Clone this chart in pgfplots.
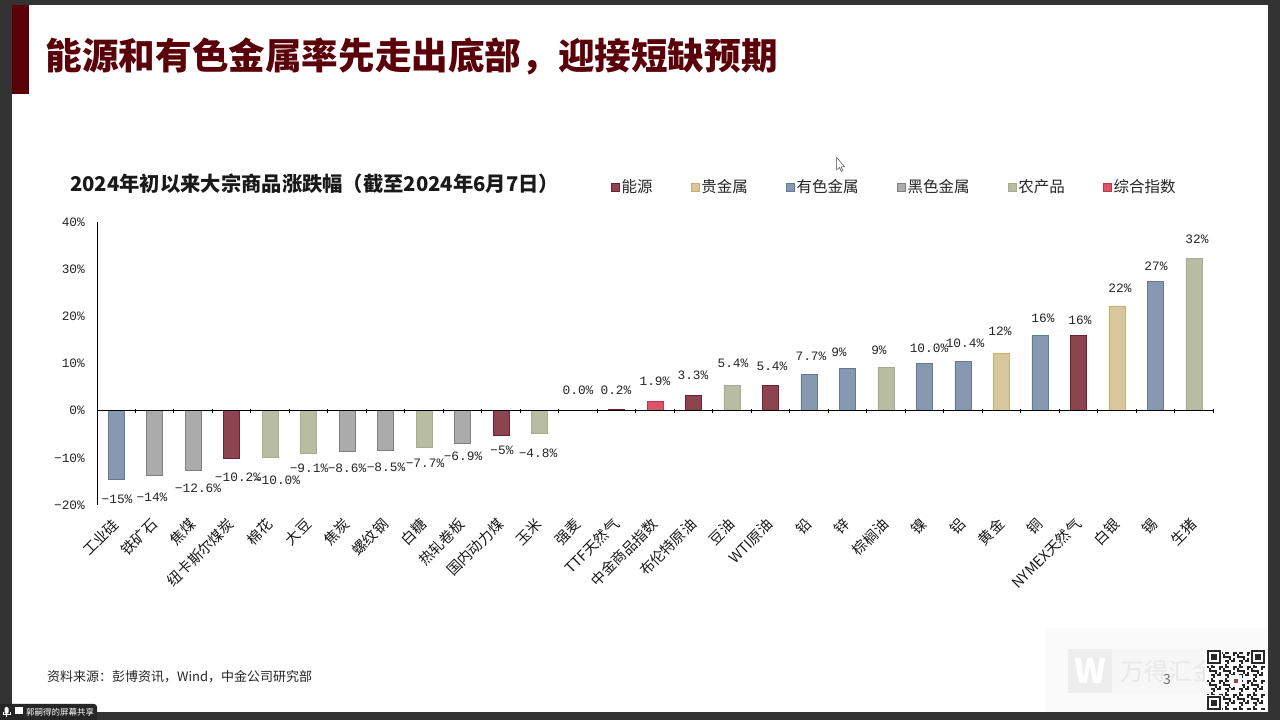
\documentclass[border=0pt]{standalone}
\usepackage{fontspec}
\usepackage{pgfplots}
\usepackage{pgfplotstable}
\pgfplotsset{compat=1.18}
\setmainfont{Noto Sans CJK SC}
\newfontfamily\labfont{Liberation Mono}
\definecolor{frame}{HTML}{333333}
\definecolor{deep}{HTML}{5A0008}
\definecolor{cEn}{HTML}{8C4451}\definecolor{eEn}{HTML}{6E1F30}
\definecolor{cPr}{HTML}{D8C79C}\definecolor{ePr}{HTML}{C9AE70}
\definecolor{cNf}{HTML}{8799B0}\definecolor{eNf}{HTML}{66788F}
\definecolor{cFe}{HTML}{ABABAB}\definecolor{eFe}{HTML}{7F7F7F}
\definecolor{cAg}{HTML}{B8BCA3}\definecolor{eAg}{HTML}{A6AB8E}
\definecolor{cIx}{HTML}{D9566A}\definecolor{eIx}{HTML}{C2334A}
\pgfplotsset{
  barstyle/.style 2 args={ybar,bar shift=0pt,bar width=16pt,fill=#1,draw=#2,line width=0.8pt,
    legend image code/.code={\draw[fill=#1,draw=#2,line width=0.8pt] (0pt,-4pt) rectangle (8pt,4pt);}},
}
\pgfplotstableread{
px py lab
117 500 −15
152 498 −14
198 489 −12.6
238 478 −10.2
277 481 −10.0
309 469 −9.1
347 469 −8.6
386 468 −8.5
425 464 −7.7
463 457 −6.9
502 451 −5
538 454 −4.8
578 391 0.0
616 391 0.2
655 382 1.9
693 376 3.3
733 364 5.4
772 367 5.4
811 357 7.7
839 353 9
879 351 9
929 349 10.0
965 344 10.4
1000 332 12
1043 319 16
1080 321 16
1120 289 22
1156 267 27
1197 240 32
}\labeltable
\begin{document}
\begin{tikzpicture}[x=1pt,y=1pt]
\useasboundingbox (0,0) rectangle (1280,720);
\fill[frame] (0,0) rectangle (1280,720);
\fill[white] (12,8) rectangle (1268,715);
\fill[deep] (12,626) rectangle (29,715);
\node[anchor=west,inner sep=0pt,text=deep] at (45.5,664) {\fontsize{36.6}{40}\selectfont\bfseries 能源和有色金属率先走出底部，迎接短缺预期};
% watermark
\fill[black!2] (1045,8) rectangle (1268,92);
\fill[black!7] (1068,27) rectangle (1112,71);
\fill[black!3] (1112,27) rectangle (1210,71);
\node[text=white,inner sep=0pt] at (1090,49) {\fontsize{34}{36}\selectfont\bfseries W};
\node[anchor=west,text=black!9,inner sep=0pt] at (1120,49) {\fontsize{24}{26}\selectfont 万得汇金};
\node[text=black!55,inner sep=0pt] at (1167,40) {\fontsize{14}{16}\selectfont 3};
% cursor
\draw[black!70,fill=white,line width=0.5pt] (836.5,562.5) -- (836.5,550) -- (839.5,552.5) -- (841.5,548.5) -- (843,549.5) -- (841,553) -- (844.5,553.5) -- cycle;
\node[anchor=west,inner sep=0pt,text=black!90] at (70,536) {\fontsize{20.3}{24}\selectfont\bfseries 2024年初以来大宗商品涨跌幅（截至2024年6月7日）};
\node[anchor=west,inner sep=0pt,text=black!85] at (47,43) {\fontsize{13}{15}\selectfont 资料来源：彭博资讯，Wind，中金公司研究部};
\begin{axis}[
  at={(97pt,215pt)},anchor=south west,scale only axis,width=1117pt,height=283pt,
  xmin=-0.494,xmax=28.52,ymin=-20,ymax=40,clip=false,axis on top,
  axis x line=middle,axis y line=left,axis line style={-,black,line width=0.9pt},
  xtick={0,...,28},
  xticklabels={工业硅,铁矿石,焦煤,纽卡斯尔煤炭,棉花,大豆,焦炭,螺纹钢,白糖,热轧卷板,国内动力煤,玉米,强麦,TTF天然气,中金商品指数,布伦特原油,豆油,WTI原油,铅,锌,棕榈油,镍,铝,黄金,铜,NYMEX天然气,白银,锡,生猪},
  minor xtick={0.5,1.5,...,28.5},
  major tick length=0pt,
  x tick style={draw=none},
  minor x tick style={draw=black,line width=0.7pt},
  minor tick length=4pt,
  ytick={-20,-10,0,10,20,30,40},
  yticklabels={−20\%,−10\%,0\%,10\%,20\%,30\%,40\%},
  y tick style={black,line width=0.7pt},
  ytick align=inside,
  xticklabel style={xshift=0pt,yshift=-111pt,rotate=45,anchor=east,inner sep=0pt,font=\fontsize{14.5}{16}\selectfont,text=black!90},
  yticklabel style={font=\labfont\fontsize{12.8}{14}\selectfont,text=black!85,inner sep=0pt,xshift=-12pt},
  legend columns=6,
  legend style={at={(0.4585,1.124)},anchor=west,draw=none,fill=none,font=\fontsize{15.5}{17}\selectfont,text=black!85,
    /tikz/every even column/.append style={column sep=36pt},inner sep=0pt,/tikz/inner xsep=1.5pt},
  legend cell align=left,
]
\addplot[barstyle={cEn}{eEn}] coordinates {(3,-10.2)(10,-5.2)(13,0.2)(15,3.3)(17,5.4)(25,16)};
\addlegendentry{能源}
\addplot[barstyle={cPr}{ePr}] coordinates {(23,12.2)(26,22.2)};
\addlegendentry{贵金属}
\addplot[barstyle={cNf}{eNf}] coordinates {(0,-14.6)(18,7.7)(19,9)(21,10)(22,10.4)(24,16)(27,27.4)};
\addlegendentry{有色金属}
\addplot[barstyle={cFe}{eFe}] coordinates {(1,-13.7)(2,-12.6)(6,-8.6)(7,-8.5)(9,-6.9)};
\addlegendentry{黑色金属}
\addplot[barstyle={cAg}{eAg}] coordinates {(4,-10)(5,-9.1)(8,-7.7)(11,-4.8)(12,0)(16,5.4)(20,9.2)(28,32.3)};
\addlegendentry{农产品}
\addplot[barstyle={cIx}{eIx}] coordinates {(14,1.9)};
\addlegendentry{综合指数}
\addplot[draw=none,mark=none,forget plot,point meta=explicit symbolic,
  nodes near coords={\pgfplotspointmeta\%},
  every node near coord/.append style={anchor=center,inner sep=0pt,font=\labfont\fontsize{12.8}{14}\selectfont,text=black!85}]
  table[x expr={(\thisrow{px}-116)/38.5},y expr={(411-\thisrow{py})/4.7167},meta=lab] {\labeltable};
\end{axis}
% QR code decoration
\fill[white] (1205,8) rectangle (1266,70);
\foreach \i in {0,...,28} \foreach \j in {0,...,28} {
  \pgfmathparse{int(mod(\i*\i*3+\j*\j*5+\i*\j+\i,7))}
  \ifnum\pgfmathresult<3 \fill[black!85] (1207+\i*2,10+\j*2) rectangle ++(2,2); \fi
}
\foreach \a/\b in {1207/10,1207/56,1251/56} {
  \fill[white] (\a-1,\b-1) rectangle ++(16,16);
  \fill[black!85] (\a,\b) rectangle ++(14,14);
  \fill[white] (\a+2,\b+2) rectangle ++(10,10);
  \fill[black!85] (\a+4,\b+4) rectangle ++(6,6);
}
\fill[white] (1230,33) rectangle (1242,45);
\fill[deep!70] (1234,37) rectangle (1238,41);
% share tab
\fill[black!85,rounded corners=3pt] (-5,-5) rectangle (97,16);
\fill[white,rounded corners=1.5pt] (4.5,6) rectangle (8.5,13);
\draw[white,line width=0.7pt] (3,8) -- (3,6) -- (10,6) -- (10,8) (6.5,6) -- (6.5,3);
\fill[white] (15,6) rectangle (23,13);
\node[anchor=west,inner sep=0pt,text=white] at (26,8) {\fontsize{8.5}{10}\selectfont 郭嗣得的屏幕共享};
\end{tikzpicture}
\end{document}
